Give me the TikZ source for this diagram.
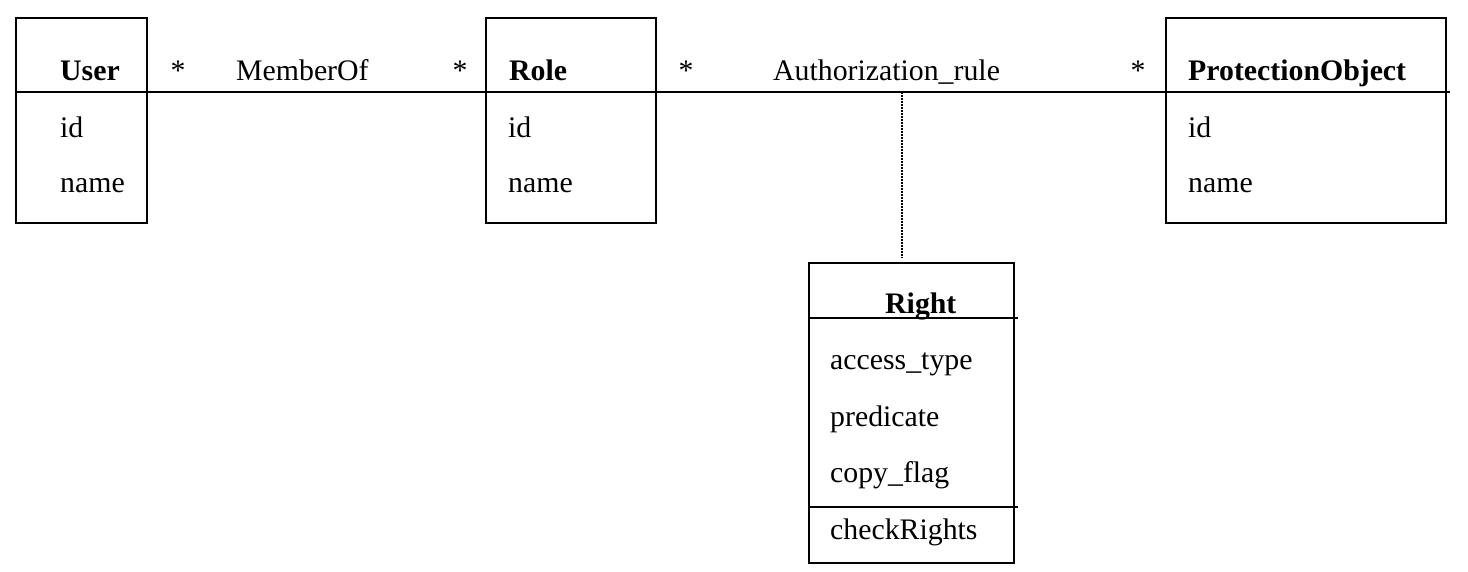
\documentclass[tikz,border=0pt]{standalone}
\usepackage{fontspec}
\setmainfont{Liberation Serif}
\begin{document}
\begin{tikzpicture}[x=1pt,y=-1pt,
  box/.style={draw,line width=1.6pt,rectangle,anchor=north west,inner sep=0pt},
  lbl/.style={anchor=base west,inner sep=0pt,font=\fontsize{29.8}{34}\selectfont},
  ttl/.style={lbl,font=\fontsize{29.8}{34}\selectfont\bfseries},
  star/.style={anchor=base,inner sep=0pt,font=\fontsize{29.8}{34}\selectfont},
  ln/.style={line width=1.6pt},
  dots/.style={line width=2pt,dash pattern=on 1.6pt off 1.4pt}]
\useasboundingbox (0,0) rectangle (1468,572);
% boxes
\node[box,minimum width=131pt,minimum height=205pt] (user) at (15,17) {};
\node[box,minimum width=170pt,minimum height=205pt] (role) at (485,17) {};
\node[box,minimum width=280pt,minimum height=205pt] (po) at (1165,17) {};
\node[box,minimum width=205pt,minimum height=300pt] (right) at (808,262) {};
\coordinate (h) at (0,92);
\coordinate (d) at (902,0);
\coordinate (s1) at (0,318);
\coordinate (s2) at (0,507);
% separator / association line
\draw[ln] (user.west |- h) -- ([xshift=3pt]po.east |- h);
% right separators
\draw[ln] (right.west |- s1) -- ([xshift=3pt]right.east |- s1);
\draw[ln] (right.west |- s2) -- ([xshift=3pt]right.east |- s2);
% dotted link
\draw[dots] (d |- h) -- ([yshift=4pt]d |- right.north);
% titles
\node[ttl] (tuser) at (60,81) {User};
\node[ttl] (trole) at (509,81) {Role};
\node[ttl] (tpo) at (1188,81) {ProtectionObject};
\node[ttl] (tright) at (885,313) {Right};
% association labels
\node[star] (s1a) at (178,81) {*};
\node[lbl] (mo) at (236,81) {MemberOf};
\node[star] (s1b) at (460,81) {*};
\node[star] (s2a) at (686,81) {*};
\node[lbl] (ar) at (773,81) {Authorization\_rule};
\node[star] (s2b) at (1138,81) {*};
% attributes
\node[lbl] (uid) at (60,138) {id};
\node[lbl] (uname) at (60,193) {name};
\node[lbl] (rid) at (508,138) {id};
\node[lbl] (rname) at (508,193) {name};
\node[lbl] (pid) at (1188,138) {id};
\node[lbl] (pname) at (1188,193) {name};
\node[lbl] (at) at (830,369) {access\_type};
\node[lbl] (pr) at (830,426) {predicate};
\node[lbl] (cf) at (830,482) {copy\_flag};
\node[lbl] (cr) at (830,539) {checkRights};
\end{tikzpicture}
\end{document}
